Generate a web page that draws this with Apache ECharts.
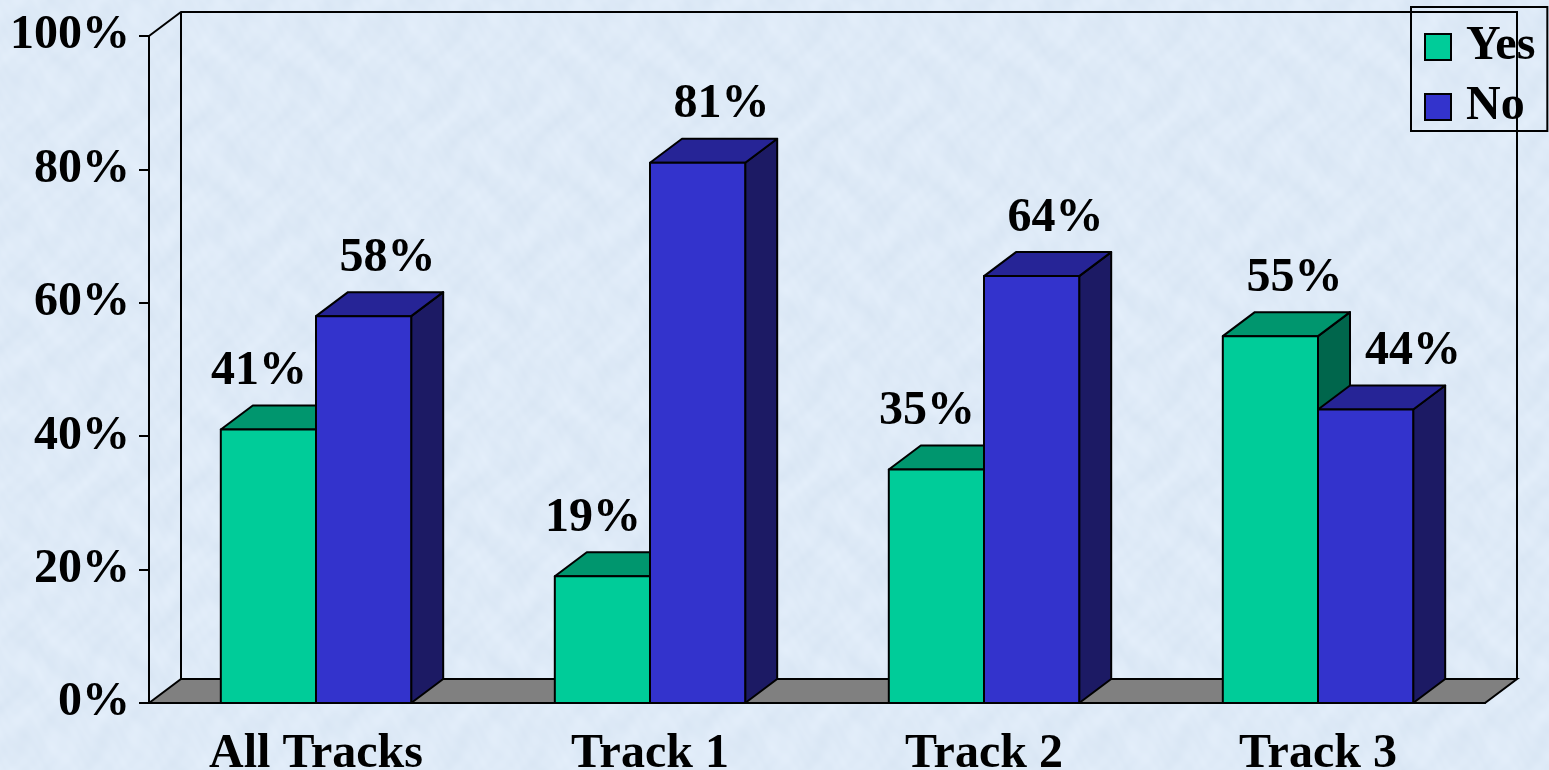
<!DOCTYPE html>
<html>
<head>
<meta charset="utf-8">
<title>Yes / No by Track</title>
<script src="https://cdn.jsdelivr.net/npm/echarts@6/dist/echarts.min.js"></script>
<style>
  html, body { margin: 0; padding: 0; }
  #chart { width: 1549px; height: 770px; }
</style>
</head>
<body>
<div id="chart"></div>
<script>
// ---- data ----
const categories = ['All Tracks', 'Track 1', 'Track 2', 'Track 3'];
const yesValues = [41, 19, 35, 55];
const noValues = [58, 81, 64, 44];
const seriesNames = ['Yes', 'No'];

// ---- styling ----
const FONT = "'Liberation Serif', 'Times New Roman', serif";
const FONT_SIZE = 48;
const DEPTH_X = 32;          // oblique depth of the 3D boxes / walls
const DEPTH_Y = 24;
const BAR_RATIO = 0.285;     // bar width as a share of the category band
const LINE_W = 2;
const palette = {
  Yes: { front: '#00CC99', top: '#00966E', side: '#00664C' },
  No:  { front: '#3333CC', top: '#262496', side: '#1C1A64' }
};

// Soft mottled light-blue backdrop, built from layered sine waves
function makeBackdrop() {
  const size = 360;
  const c = document.createElement('canvas');
  c.width = size; c.height = size;
  const ctx = c.getContext('2d');
  const img = ctx.createImageData(size, size);
  const k = 2 * Math.PI / size;
  for (let y = 0; y < size; y++) {
    for (let x = 0; x < size; x++) {
      const n = Math.sin(x * k * 5 + Math.sin(y * k * 3) * 3.1) * 0.35 +
                Math.sin(y * k * 7 + Math.sin(x * k * 4) * 2.6) * 0.3 +
                Math.sin((x * 3 + y * 2) * k * 6 + Math.cos(y * k * 5) * 2) * 0.2 +
                Math.sin((x * 5 - y * 4) * k * 5 + Math.sin(x * k * 9) * 1.5) * 0.15;
      const i = (y * size + x) * 4;
      img.data[i] = 222 + n * 5;
      img.data[i + 1] = 234 + n * 4;
      img.data[i + 2] = 247 + n * 3;
      img.data[i + 3] = 255;
    }
  }
  ctx.putImageData(img, 0, 0);
  return c;
}

// Back wall, side wall edges and the grey floor of the 3D box
function renderWalls(params, api) {
  const cs = params.coordSys;
  const x = cs.x, y = cs.y, w = cs.width, h = cs.height;
  const stroke = { stroke: '#000', lineWidth: LINE_W, fill: null };
  return {
    type: 'group',
    children: [
      {
        type: 'polyline',
        shape: { points: [[x, y], [x + DEPTH_X, y - DEPTH_Y], [x + w + DEPTH_X, y - DEPTH_Y], [x + w + DEPTH_X, y + h - DEPTH_Y]] },
        style: stroke
      },
      {
        type: 'line',
        shape: { x1: x + DEPTH_X, y1: y - DEPTH_Y, x2: x + DEPTH_X, y2: y + h - DEPTH_Y },
        style: stroke
      },
      {
        type: 'polygon',
        shape: { points: [[x, y + h], [x + DEPTH_X, y + h - DEPTH_Y], [x + w + DEPTH_X, y + h - DEPTH_Y], [x + w, y + h]] },
        style: { fill: '#808080', stroke: '#000', lineWidth: LINE_W }
      }
    ]
  };
}

// One 3D column: front face, top face, right side face and its value label
function makeBoxRenderer(name) {
  const col = palette[name];
  const isYes = name === 'Yes';
  return function (params, api) {
    const cat = api.value(0);
    const v = api.value(1);
    const base = api.coord([cat, 0]);
    const top = api.coord([cat, v]);
    const band = api.size([1, 0])[0];
    const w = band * BAR_RATIO;
    const x0 = isYes ? base[0] - w : base[0];
    const x1 = x0 + w;
    const yT = top[1], yB = base[1];
    const edge = { stroke: '#000', lineWidth: LINE_W, lineJoin: 'round' };

    // label placement: keep clear of the neighbouring column in the pair
    const other = isYes ? noValues[cat] : yesValues[cat];
    let lx, align;
    if (isYes && other > v) {
      lx = x1 - 9; align = 'right';
    } else if (!isYes && other > v) {
      lx = x0 + DEPTH_X + 15; align = 'left';
    } else {
      lx = (x0 + x1) / 2 + 24; align = 'center';
    }

    return {
      type: 'group',
      children: [
        {
          type: 'polygon',
          shape: { points: [[x1, yT], [x1 + DEPTH_X, yT - DEPTH_Y], [x1 + DEPTH_X, yB - DEPTH_Y], [x1, yB]] },
          style: Object.assign({ fill: col.side }, edge)
        },
        {
          type: 'polygon',
          shape: { points: [[x0, yT], [x0 + DEPTH_X, yT - DEPTH_Y], [x1 + DEPTH_X, yT - DEPTH_Y], [x1, yT]] },
          style: Object.assign({ fill: col.top }, edge)
        },
        {
          type: 'rect',
          shape: { x: x0, y: yT, width: w, height: yB - yT },
          style: Object.assign({ fill: col.front }, edge)
        },
        {
          type: 'text',
          z2: 100,
          style: {
            text: v + '%',
            x: lx,
            y: yT - DEPTH_Y - 34,
            align: align,
            verticalAlign: 'middle',
            fontFamily: FONT,
            fontWeight: 'bold',
            fontSize: FONT_SIZE,
            fill: '#000'
          }
        }
      ]
    };
  };
}

const chart = echarts.init(document.getElementById('chart'), null, { renderer: 'canvas' });

const valuesByName = { Yes: yesValues, No: noValues };

chart.setOption({
  animation: false,
  backgroundColor: { image: makeBackdrop(), repeat: 'repeat' },
  grid: { left: 149, right: 64, top: 36, bottom: 67, containLabel: false, outerBoundsMode: 'none' },
  legend: {
    data: seriesNames.map(n => ({
      name: n,
      itemStyle: { color: palette[n].front, borderColor: '#000', borderWidth: 2 }
    })),
    orient: 'vertical',
    left: 1411,
    top: 7,
    icon: 'rect',
    itemWidth: 26,
    itemHeight: 26,
    itemGap: 12,
    padding: [16, 12, 0, 13],
    borderColor: '#000',
    borderWidth: 2,
    selectedMode: false,
    textStyle: {
      fontFamily: FONT,
      fontWeight: 'bold',
      fontSize: FONT_SIZE,
      color: '#000',
      padding: [0, 0, 0, 10]
    }
  },
  xAxis: {
    type: 'category',
    data: categories,
    axisLine: { lineStyle: { color: '#000', width: LINE_W } },
    axisTick: { length: 10, lineStyle: { color: '#000', width: LINE_W } },
    axisLabel: {
      margin: 28,
      fontFamily: FONT,
      fontWeight: 'bold',
      fontSize: FONT_SIZE,
      color: '#000'
    }
  },
  yAxis: {
    type: 'value',
    min: 0,
    max: 100,
    interval: 20,
    splitLine: { show: false },
    axisLine: { show: true, lineStyle: { color: '#000', width: LINE_W } },
    axisTick: { show: true, length: 10, lineStyle: { color: '#000', width: LINE_W } },
    axisLabel: {
      margin: 19,
      formatter: v => v + '%',
      fontFamily: FONT,
      fontWeight: 'bold',
      fontSize: FONT_SIZE,
      color: '#000'
    }
  },
  series: [
    {
      name: 'walls',
      type: 'custom',
      renderItem: renderWalls,
      data: [[0, 0]],
      z: 1,
      silent: true
    }
  ].concat(seriesNames.map(n => ({
    name: n,
    type: 'custom',
    renderItem: makeBoxRenderer(n),
    itemStyle: { color: palette[n].front, borderColor: '#000', borderWidth: 2 },
    data: valuesByName[n].map((v, i) => [i, v]),
    encode: { x: 0, y: 1 },
    z: 2
  })))
});
</script>
</body>
</html>
